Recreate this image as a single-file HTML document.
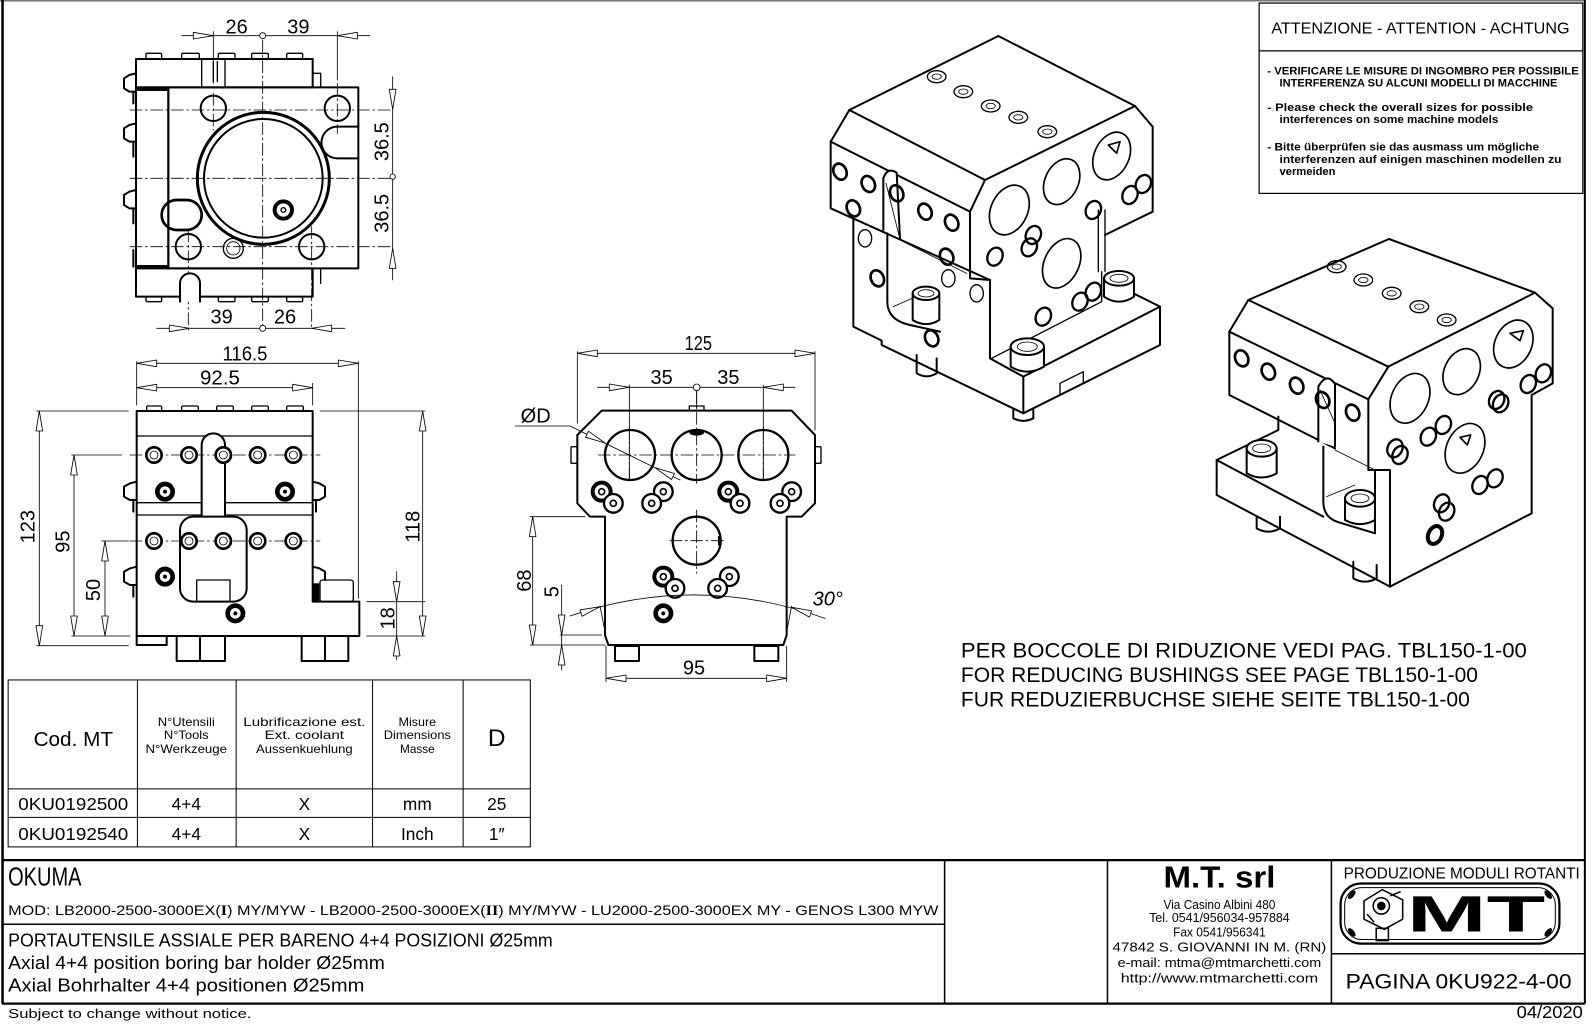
<!DOCTYPE html>
<html><head><meta charset="utf-8"><style>
html,body{margin:0;padding:0;background:#fff}
svg{display:block}
.z{fill:none;stroke:#000;stroke-linecap:round;stroke-linejoin:round}
.z .t{stroke-width:6}
.z .m{stroke-width:4}
.z .n{stroke-width:2.5}
.z .c{stroke-width:2.5;stroke-dasharray:36 10 6 10}
.z .a{stroke-width:2.5;fill:#fff}
.z .f{fill:#000;stroke:none}
.z .w{fill:#fff}
text{font-family:"Liberation Sans",sans-serif;fill:#000;stroke:none}
.dt{font-size:60px}
</style></head><body>
<svg width="1596" height="1025" viewBox="0 0 1596 1025" xmlns="http://www.w3.org/2000/svg">
<rect width="1596" height="1025" fill="#fff"/>

<!-- ========== VIEW A (top-left) ========== -->
<g class="z" transform="translate(100,0) scale(0.33333)">
 <path class="n" d="M245,107H478M498,107H810"/>
 <circle class="n" cx="488" cy="107" r="9"/>
 <polygon class="a" points="340,107 280,97 280,117"/>
 <polygon class="a" points="712,107 772,97 772,117"/>
 <path class="n" d="M340,95V250M712,95V240"/>
 <text class="dt" x="410" y="100" text-anchor="middle">26</text>
 <text class="dt" x="595" y="100" text-anchor="middle">39</text>

 <rect class="t" x="108" y="177" width="530" height="85"/>
 <path class="m" d="M305,177V262M375,177V262M340,185V245M352,185V245"/>
 <g class="m">
  <rect x="138" y="160" width="47" height="17" rx="4"/>
  <rect x="245" y="160" width="53" height="17" rx="4"/>
  <rect x="355" y="160" width="50" height="17" rx="4"/>
  <rect x="455" y="160" width="50" height="17" rx="4"/>
  <rect x="560" y="160" width="48" height="17" rx="4"/>
 </g>
 <path class="m" d="M638,220H662V262"/>

 <rect class="t" x="205" y="262" width="570" height="543"/>
 <rect class="t" x="108" y="262" width="97" height="540"/>
 <rect class="f" x="108" y="262" width="97" height="11"/>
 <rect class="f" x="108" y="795" width="97" height="10"/>
 <g class="t">
  <path d="M108,220L88,225L72,235L72,265L88,275L108,275M100,275V310"/>
  <path d="M108,370L88,375L72,385L72,415L88,425L108,425M100,425V470"/>
  <path d="M108,570L88,575L72,585L72,615L88,625L108,625M100,625V670"/>
  <path d="M100,750V800"/>
 </g>

 <circle class="t" cx="340" cy="325" r="38"/>
 <circle class="t" cx="712" cy="325" r="38"/>
 <circle class="t" cx="265" cy="740" r="38"/>
 <circle class="t" cx="635" cy="740" r="38"/>
 <circle cx="490" cy="535" r="198" stroke-width="9"/>
 <circle class="t" cx="490" cy="535" r="178"/>
 <path class="t" d="M775,380H712A47,47 0 0 0 712,475H775"/>
 <rect x="185" y="600" width="120" height="90" rx="45" stroke-width="8"/>
 <circle cx="550" cy="630" r="26" stroke-width="12"/>
 <circle class="m" cx="550" cy="630" r="7"/>
 <circle class="m" cx="400" cy="745" r="30"/>
 <circle class="n" cx="400" cy="745" r="20"/>

 <path class="c" d="M90,330H880M90,535H880M90,740H880M488,120V975M340,280V390M712,250V400M265,690V990M635,680V990"/>

 <path class="n" d="M878,230V521M878,539V840"/>
 <circle class="n" cx="878" cy="530" r="8"/>
 <polygon class="a" points="878,328 868,268 888,268"/>
 <polygon class="a" points="878,745 868,805 888,805"/>
 <text class="dt" transform="translate(866,425) rotate(-90)" text-anchor="middle">36.5</text>
 <text class="dt" transform="translate(866,640) rotate(-90)" text-anchor="middle">36.5</text>

 <rect class="t" x="108" y="805" width="530" height="85"/>
 <g class="m">
  <rect x="138" y="890" width="47" height="15" rx="4"/>
  <rect x="355" y="890" width="50" height="15" rx="4"/>
  <rect x="455" y="890" width="50" height="15" rx="4"/>
  <rect x="560" y="890" width="48" height="15" rx="4"/>
 </g>
 <path class="t w" d="M240,905V850A30,30 0 0 1 300,850V905"/>
 <path class="m" d="M638,805H662V850"/>

 <path class="n" d="M170,985H478M498,985H735"/>
 <polygon class="a" points="268,985 208,975 208,995"/>
 <polygon class="a" points="635,985 695,975 695,995"/>
 <circle class="n" cx="488" cy="985" r="9"/>
 <text class="dt" x="365" y="970" text-anchor="middle">39</text>
 <text class="dt" x="555" y="970" text-anchor="middle">26</text>
</g>

<!-- ========== VIEW B (front) ========== -->
<g class="z" transform="translate(0,330) scale(0.33333)">
 <path class="n" d="M410,100H1075M410,173H938M410,95V225M1075,95V805M938,160V225"/>
 <polygon class="a" points="410,100 470,90 470,110"/>
 <polygon class="a" points="1075,100 1015,90 1015,110"/>
 <polygon class="a" points="410,173 470,163 470,183"/>
 <polygon class="a" points="938,173 878,163 878,183"/>
 <text class="dt" x="735" y="92" text-anchor="middle" textLength="135" lengthAdjust="spacingAndGlyphs">116.5</text>
 <text class="dt" x="660" y="163" text-anchor="middle" textLength="120" lengthAdjust="spacingAndGlyphs">92.5</text>

 <path class="n" d="M118,243V947M110,243H385M110,947H385"/>
 <polygon class="a" points="118,243 108,303 128,303"/>
 <polygon class="a" points="118,947 108,887 128,887"/>
 <path class="n" d="M222,375V918M215,375H365M215,918H390"/>
 <polygon class="a" points="222,375 212,435 232,435"/>
 <polygon class="a" points="222,918 212,858 232,858"/>
 <path class="n" d="M315,633V918M305,633H385"/>
 <polygon class="a" points="315,633 305,693 325,693"/>
 <polygon class="a" points="315,918 305,858 325,858"/>
 <path class="n" d="M1268,243V918M960,243H1275M1100,918H1275"/>
 <polygon class="a" points="1268,243 1258,303 1278,303"/>
 <polygon class="a" points="1268,918 1258,858 1278,858"/>
 <path class="n" d="M1190,725V990M1100,815H1275"/>
 <polygon class="a" points="1190,815 1180,755 1200,755"/>
 <polygon class="a" points="1190,918 1180,978 1200,978"/>
 <text class="dt" transform="translate(103,590) rotate(-90)" text-anchor="middle">123</text>
 <text class="dt" transform="translate(208,635) rotate(-90)" text-anchor="middle">95</text>
 <text class="dt" transform="translate(300,780) rotate(-90)" text-anchor="middle">50</text>
 <text class="dt" transform="translate(1258,590) rotate(-90)" text-anchor="middle">118</text>
 <text class="dt" transform="translate(1183,865) rotate(-90)" text-anchor="middle">18</text>

 <g class="m">
  <rect x="440" y="228" width="45" height="15" rx="4"/>
  <rect x="545" y="228" width="50" height="15" rx="4"/>
  <rect x="650" y="228" width="50" height="15" rx="4"/>
  <rect x="755" y="228" width="50" height="15" rx="4"/>
  <rect x="860" y="228" width="50" height="15" rx="4"/>
 </g>
 <path class="t" d="M410,918V243H938V815H1078V918Z"/>
 <rect class="t" x="410" y="918" width="90" height="27"/>
 <rect class="m" x="960" y="750" width="100" height="65" rx="8"/>
 <rect class="f" x="940" y="760" width="18" height="55"/>
 <rect class="t" x="530" y="918" width="70" height="75"/>
 <rect class="t" x="600" y="918" width="75" height="75"/>
 <rect class="t" x="905" y="918" width="70" height="75"/>
 <rect class="t" x="975" y="918" width="70" height="75"/>
 <path class="m" d="M410,318H938M410,518H938M410,555H938"/>
 <path class="t w" d="M605,560V345A35,35 0 0 1 675,345V560"/>
 <rect class="t w" x="540" y="560" width="200" height="255" rx="40"/>
 <rect class="m" x="590" y="750" width="100" height="65"/>
 <path class="c" d="M390,375H960M390,633H960"/>
 <g>
  <circle cx="462" cy="375" r="23" stroke-width="8" class="w"/><circle class="n" cx="462" cy="375" r="12"/>
  <circle cx="567" cy="375" r="23" stroke-width="8" class="w"/><circle class="n" cx="567" cy="375" r="12"/>
  <circle cx="670" cy="375" r="23" stroke-width="8" class="w"/><circle class="n" cx="670" cy="375" r="12"/>
  <circle cx="773" cy="375" r="23" stroke-width="8" class="w"/><circle class="n" cx="773" cy="375" r="12"/>
  <circle cx="880" cy="375" r="23" stroke-width="8" class="w"/><circle class="n" cx="880" cy="375" r="12"/>
  <circle cx="462" cy="633" r="23" stroke-width="8" class="w"/><circle class="n" cx="462" cy="633" r="12"/>
  <circle cx="567" cy="633" r="23" stroke-width="8" class="w"/><circle class="n" cx="567" cy="633" r="12"/>
  <circle cx="670" cy="633" r="23" stroke-width="8" class="w"/><circle class="n" cx="670" cy="633" r="12"/>
  <circle cx="773" cy="633" r="23" stroke-width="8" class="w"/><circle class="n" cx="773" cy="633" r="12"/>
  <circle cx="880" cy="633" r="23" stroke-width="8" class="w"/><circle class="n" cx="880" cy="633" r="12"/>
 </g>
 <g>
  <circle cx="495" cy="485" r="23" stroke-width="14"/><circle class="f" cx="495" cy="485" r="6"/>
  <circle cx="855" cy="485" r="23" stroke-width="14"/><circle class="f" cx="855" cy="485" r="6"/>
  <circle cx="495" cy="740" r="23" stroke-width="14"/><circle class="f" cx="495" cy="740" r="6"/>
  <circle cx="706" cy="850" r="23" stroke-width="14"/><circle class="f" cx="706" cy="850" r="6"/>
 </g>
 <g class="t">
  <path d="M410,455L390,460L372,470L372,500L390,510L410,510M400,510V545"/>
  <path d="M410,710L390,715L372,725L372,755L390,765L410,765M400,765V800"/>
  <path d="M938,455L958,460L975,470L975,500L958,510L938,510M948,510V545"/>
  <path d="M938,710L958,715L975,725L975,750"/>
 </g>
</g>

<!-- ========== VIEW C (side) ========== -->
<g class="z" transform="translate(490,320) scale(0.33333)">
 <path class="n" d="M262,100H975M262,95V310M975,95V330"/>
 <polygon class="a" points="262,100 322,90 322,110"/>
 <polygon class="a" points="975,100 915,90 915,110"/>
 <text class="dt" x="625" y="90" text-anchor="middle" textLength="82" lengthAdjust="spacingAndGlyphs">125</text>
 <path class="n" d="M322,202H610M630,202H915M418,195V480M820,195V480M620,212V262"/>
 <circle class="n" cx="620" cy="202" r="10"/>
 <polygon class="a" points="418,202 358,192 358,212"/>
 <polygon class="a" points="820,202 880,192 880,212"/>
 <text class="dt" x="515" y="192" text-anchor="middle">35</text>
 <text class="dt" x="715" y="192" text-anchor="middle">35</text>

 <path class="t" d="M335,272L905,272L975,345L975,550L935,590L890,590L890,945L880,975L355,975L345,945L345,590L300,590L262,550L262,345Z"/>
 <rect class="m" x="598" y="258" width="44" height="14"/>
 <rect class="m" x="243" y="380" width="19" height="50" rx="3"/>
 <rect class="m" x="975" y="380" width="18" height="50" rx="3"/>
 <circle cx="420" cy="405" r="75" stroke-width="7"/>
 <circle cx="620" cy="405" r="75" stroke-width="7"/>
 <circle cx="820" cy="405" r="75" stroke-width="7"/>
 <circle cx="620" cy="662" r="72" stroke-width="7"/>
 <ellipse class="f" cx="620" cy="338" rx="22" ry="9"/>
 <rect class="f" x="684" y="648" width="8" height="28"/>
 <path class="c" d="M325,405H915M620,215V490M620,570V760M540,662H710M418,320V490M820,320V490"/>

 <g>
  <circle cx="335" cy="515" r="27" stroke-width="12" class="w"/><circle cx="335" cy="515" r="9" stroke-width="5"/>
  <circle cx="370" cy="550" r="28" stroke-width="7" class="w"/><circle cx="370" cy="550" r="9" stroke-width="5"/>
  <circle cx="520" cy="515" r="28" stroke-width="7" class="w"/><circle cx="520" cy="515" r="9" stroke-width="5"/>
  <circle cx="485" cy="550" r="28" stroke-width="7" class="w"/><circle cx="485" cy="550" r="9" stroke-width="5"/>
  <circle cx="715" cy="515" r="27" stroke-width="12" class="w"/><circle cx="715" cy="515" r="9" stroke-width="5"/>
  <circle cx="750" cy="550" r="28" stroke-width="7" class="w"/><circle cx="750" cy="550" r="9" stroke-width="5"/>
  <circle cx="905" cy="515" r="28" stroke-width="7" class="w"/><circle cx="905" cy="515" r="9" stroke-width="5"/>
  <circle cx="870" cy="550" r="28" stroke-width="7" class="w"/><circle cx="870" cy="550" r="9" stroke-width="5"/>
  <circle cx="520" cy="770" r="27" stroke-width="12" class="w"/><circle cx="520" cy="770" r="9" stroke-width="5"/>
  <circle cx="555" cy="805" r="28" stroke-width="7" class="w"/><circle cx="555" cy="805" r="9" stroke-width="5"/>
  <circle cx="718" cy="770" r="28" stroke-width="7" class="w"/><circle cx="718" cy="770" r="9" stroke-width="5"/>
  <circle cx="683" cy="805" r="28" stroke-width="7" class="w"/><circle cx="683" cy="805" r="9" stroke-width="5"/>
  <circle cx="520" cy="880" r="23" stroke-width="14"/><circle class="f" cx="520" cy="880" r="6"/>
 </g>

 <text class="dt" x="92" y="308">ØD</text>
 <path class="n" d="M75,318H240L570,480"/>
 <polygon class="a" points="345,369 286.6,351.5 295.4,333.5"/>
 <polygon class="a" points="495,443 544.6,478.5 553.4,460.5"/>

 <path class="n" d="M240,888Q620,758 1005,895"/>
 <path class="n" d="M330,858L345,935M905,858L890,935"/>
 <polygon class="a" points="330,860 276.4,888.9 270,869.9"/>
 <polygon class="a" points="905,862 958.2,891.5 964.9,872.7"/>
 <text class="dt" x="968" y="856" font-style="italic">30°</text>

 <path class="n" d="M128,590V975M120,590H285M120,975H345"/>
 <polygon class="a" points="128,590 118,650 138,650"/>
 <polygon class="a" points="128,975 118,915 138,915"/>
 <text class="dt" transform="translate(123,782) rotate(-90)" text-anchor="middle">68</text>
 <path class="n" d="M215,795V1050M210,945H335"/>
 <polygon class="a" points="215,945 205,885 225,885"/>
 <polygon class="a" points="215,975 205,1035 225,1035"/>
 <text class="dt" transform="translate(205,815) rotate(-90)" text-anchor="middle">5</text>

 <rect class="t" x="375" y="978" width="72" height="45"/>
 <rect class="t" x="793" y="978" width="72" height="45"/>
 <path class="n" d="M348,1075H890M348,978V1085M890,978V1085"/>
 <polygon class="a" points="348,1075 408,1065 408,1085"/>
 <polygon class="a" points="890,1075 830,1065 830,1085"/>
 <text class="dt" x="612" y="1063" text-anchor="middle">95</text>
</g>

<!-- ========== 3D VIEW 1 ========== -->
<g class="z" transform="translate(800,30) scale(0.33333)">
 <path class="t" d="M148,240L595,18L1005,228L555,450Z"/>
 <path class="t" d="M148,240L92,335L510,545L555,450"/>
 <path class="t" d="M1005,228L1058,290V545L915,615"/>
 <path class="t" d="M92,335V535L570,750"/>
 <path class="t" d="M160,568V890L245,932V945L670,1150L1080,945V830L670,1040V1150"/>
 <path class="t" d="M510,545V745L570,750V985L670,1040"/>
 <path class="t" d="M1080,830L1000,790"/>
 <path class="m" d="M575,985L905,815V725M895,540V725M915,540V725"/>
 <path class="m" d="M780,1090V1060L850,1025V1055"/>
 <path class="t" d="M262,610V815Q262,870 330,885L420,905"/>
 <path class="n" d="M280,830L370,790M280,620L500,730"/>
 <path class="t w" d="M250,600V445Q262,410 290,428L300,625"/>
 <path class="n" d="M258,460L298,620"/>

 <g stroke-width="5">
  <ellipse cx="628" cy="540" rx="55" ry="78" transform="rotate(25 628 540)"/>
  <ellipse cx="785" cy="455" rx="50" ry="72" transform="rotate(25 785 455)"/>
  <ellipse cx="935" cy="378" rx="52" ry="75" transform="rotate(25 935 378)"/>
  <ellipse cx="785" cy="700" rx="52" ry="78" transform="rotate(25 785 700)"/>
  <polygon points="925,345 960,335 950,370"/>
 </g>
 <g>
  <ellipse cx="410" cy="140" rx="28" ry="18" class="m"/><ellipse cx="410" cy="140" rx="14" ry="8" class="n"/>
  <ellipse cx="490" cy="185" rx="28" ry="18" class="m"/><ellipse cx="490" cy="185" rx="14" ry="8" class="n"/>
  <ellipse cx="572" cy="228" rx="28" ry="18" class="m"/><ellipse cx="572" cy="228" rx="14" ry="8" class="n"/>
  <ellipse cx="655" cy="262" rx="28" ry="18" class="m"/><ellipse cx="655" cy="262" rx="14" ry="8" class="n"/>
  <ellipse cx="742" cy="305" rx="28" ry="18" class="m"/><ellipse cx="742" cy="305" rx="14" ry="8" class="n"/>
 </g>
 <g stroke-width="8">
  <ellipse cx="120" cy="425" rx="19" ry="25" transform="rotate(-25 120 425)"/>
  <ellipse cx="205" cy="462" rx="19" ry="25" transform="rotate(-25 205 462)"/>
  <ellipse cx="160" cy="535" rx="19" ry="25" transform="rotate(-25 160 535)"/>
  <ellipse cx="290" cy="490" rx="19" ry="25" transform="rotate(-25 290 490)"/>
  <ellipse cx="375" cy="545" rx="19" ry="25" transform="rotate(-25 375 545)"/>
  <ellipse cx="455" cy="578" rx="19" ry="25" transform="rotate(-25 455 578)"/>
  <ellipse cx="440" cy="680" rx="19" ry="25" transform="rotate(-25 440 680)"/>
  <ellipse cx="232" cy="745" rx="19" ry="25" transform="rotate(-25 232 745)"/>
  <ellipse cx="395" cy="925" rx="19" ry="25" transform="rotate(-25 395 925)"/>
 </g>
 <g stroke-width="4">
  <ellipse cx="195" cy="625" rx="20" ry="26"/>
  <ellipse cx="445" cy="745" rx="20" ry="26"/>
  <ellipse cx="530" cy="790" rx="20" ry="26"/>
 </g>
 <g stroke-width="7">
  <ellipse cx="585" cy="680" rx="22" ry="28" transform="rotate(25 585 680)"/>
  <ellipse cx="700" cy="615" rx="22" ry="28" transform="rotate(25 700 615)"/>
  <ellipse cx="688" cy="652" rx="22" ry="28" transform="rotate(25 688 652)"/>
  <ellipse cx="880" cy="540" rx="22" ry="28" transform="rotate(25 880 540)"/>
  <ellipse cx="1030" cy="462" rx="22" ry="28" transform="rotate(25 1030 462)"/>
  <ellipse cx="990" cy="495" rx="22" ry="28" transform="rotate(25 990 495)"/>
  <ellipse cx="880" cy="785" rx="22" ry="28" transform="rotate(25 880 785)"/>
  <ellipse cx="840" cy="815" rx="22" ry="28" transform="rotate(25 840 815)"/>
  <ellipse cx="730" cy="860" rx="22" ry="28" transform="rotate(25 730 860)"/>
 </g>
 <g class="t">
  <path class="w" d="M338,790V870Q378,895 418,870V790"/>
  <ellipse class="w" cx="378" cy="790" rx="40" ry="20"/>
  <path class="w" d="M912,745V800Q957,830 1002,800V745"/>
  <ellipse class="w" cx="957" cy="745" rx="45" ry="22"/>
  <path class="w" d="M632,950V1010Q682,1040 732,1010V950"/>
  <ellipse class="w" cx="682" cy="950" rx="50" ry="25"/>
  <path d="M350,975V1030Q380,1048 410,1030V985"/>
  <path d="M640,1135V1165Q670,1180 700,1165V1140"/>
 </g>
 <g class="n"><ellipse cx="378" cy="790" rx="24" ry="11"/><ellipse cx="957" cy="745" rx="27" ry="12"/><ellipse cx="682" cy="950" rx="30" ry="14"/></g>
</g>

<!-- ========== 3D VIEW 2 ========== -->
<g class="z" transform="translate(1180,240) scale(0.33333)">
 <path class="t" d="M205,180L627,-3L1065,158L625,380Z"/>
 <path class="t" d="M205,180L148,275L565,478L625,380"/>
 <path class="t" d="M1065,158L1118,205V430L1055,465V820L630,1040"/>
 <path class="t" d="M148,275V465L465,625"/>
 <path class="t" d="M565,478V690L630,690V1040"/>
 <path class="t" d="M110,660L295,570V530M110,660V765L630,1040"/>
 <path class="t" d="M110,660L430,830"/>
 <path class="t" d="M430,620V785Q430,835 480,848L585,880V690"/>
 <path class="n" d="M440,770L525,735M465,630L585,690"/>
 <path class="t w" d="M415,605V440Q440,395 465,432V620"/>
 <path class="n" d="M420,450L465,550"/>
 <g stroke-width="5">
  <ellipse cx="690" cy="475" rx="55" ry="78" transform="rotate(25 690 475)"/>
  <ellipse cx="845" cy="395" rx="52" ry="72" transform="rotate(25 845 395)"/>
  <ellipse cx="1000" cy="312" rx="55" ry="75" transform="rotate(25 1000 312)"/>
  <ellipse cx="855" cy="625" rx="55" ry="78" transform="rotate(25 855 625)"/>
  <polygon points="990,280 1030,272 1020,302"/>
  <polygon points="840,592 872,585 862,615"/>
 </g>
 <g>
  <ellipse cx="470" cy="80" rx="28" ry="18" class="m"/><ellipse cx="470" cy="80" rx="14" ry="8" class="n"/>
  <ellipse cx="550" cy="120" rx="28" ry="18" class="m"/><ellipse cx="550" cy="120" rx="14" ry="8" class="n"/>
  <ellipse cx="635" cy="160" rx="28" ry="18" class="m"/><ellipse cx="635" cy="160" rx="14" ry="8" class="n"/>
  <ellipse cx="718" cy="200" rx="28" ry="18" class="m"/><ellipse cx="718" cy="200" rx="14" ry="8" class="n"/>
  <ellipse cx="800" cy="240" rx="28" ry="18" class="m"/><ellipse cx="800" cy="240" rx="14" ry="8" class="n"/>
 </g>
 <g stroke-width="8">
  <ellipse cx="185" cy="355" rx="19" ry="25" transform="rotate(-25 185 355)"/>
  <ellipse cx="265" cy="395" rx="19" ry="25" transform="rotate(-25 265 395)"/>
  <ellipse cx="350" cy="437" rx="19" ry="25" transform="rotate(-25 350 437)"/>
  <ellipse cx="428" cy="480" rx="19" ry="25" transform="rotate(-25 428 480)"/>
  <ellipse cx="518" cy="518" rx="19" ry="25" transform="rotate(-25 518 518)"/>
 </g>
 <g stroke-width="7">
  <ellipse cx="645" cy="625" rx="22" ry="28" transform="rotate(25 645 625)"/>
  <ellipse cx="660" cy="645" rx="22" ry="28" transform="rotate(25 660 645)"/>
  <ellipse cx="745" cy="590" rx="22" ry="28" transform="rotate(25 745 590)"/>
  <ellipse cx="790" cy="555" rx="22" ry="28" transform="rotate(25 790 555)"/>
  <ellipse cx="950" cy="480" rx="22" ry="28" transform="rotate(25 950 480)"/>
  <ellipse cx="962" cy="490" rx="22" ry="28" transform="rotate(25 962 490)"/>
  <ellipse cx="1045" cy="432" rx="22" ry="28" transform="rotate(25 1045 432)"/>
  <ellipse cx="1090" cy="400" rx="22" ry="28" transform="rotate(25 1090 400)"/>
  <ellipse cx="900" cy="735" rx="22" ry="28" transform="rotate(25 900 735)"/>
  <ellipse cx="945" cy="715" rx="22" ry="28" transform="rotate(25 945 715)"/>
  <ellipse cx="800" cy="815" rx="22" ry="28" transform="rotate(25 800 815)"/>
  <ellipse cx="785" cy="790" rx="22" ry="28" transform="rotate(25 785 790)"/>
  <ellipse cx="765" cy="885" rx="20" ry="28" stroke-width="12" transform="rotate(25 765 885)"/>
 </g>
 <g class="t">
  <path class="w" d="M200,625V700Q245,725 290,700V625"/>
  <ellipse class="w" cx="245" cy="625" rx="45" ry="25"/>
  <path class="w" d="M495,775V840Q540,865 585,840V775"/>
  <ellipse class="w" cx="540" cy="775" rx="45" ry="25"/>
  <path d="M230,830V865Q265,885 300,865V830"/>
  <path d="M520,965V1015Q555,1035 590,1015V975"/>
 </g>
 <g class="n"><ellipse cx="245" cy="625" rx="27" ry="13"/><ellipse cx="540" cy="775" rx="27" ry="13"/></g>
</g>

<!-- ========== FRAME / TABLES / TEXT (perceived coords) ========== -->
<g transform="scale(1.0179)">
 <path d="M0,0.7H1557" stroke="#777" stroke-width="1.6" fill="none"/>
 <path d="M2.5,0V986" stroke="#000" stroke-width="2.5" fill="none"/>
 <path d="M1557,0V986" stroke="#000" stroke-width="2" fill="none"/>

 <!-- attention box -->
 <rect x="1237" y="3" width="318" height="187" fill="none" stroke="#000" stroke-width="1.2"/>
 <path d="M1237,50H1555" stroke="#000" stroke-width="1.2"/>
 <text x="1249" y="33" font-size="15" textLength="293" lengthAdjust="spacingAndGlyphs">ATTENZIONE - ATTENTION - ACHTUNG</text>
 <g font-size="11" font-weight="bold">
  <text x="1245" y="73" textLength="306" lengthAdjust="spacingAndGlyphs">- VERIFICARE LE MISURE DI INGOMBRO PER POSSIBILE</text>
  <text x="1257" y="85" textLength="273" lengthAdjust="spacingAndGlyphs">INTERFERENZA SU ALCUNI MODELLI DI MACCHINE</text>
  <text x="1245" y="109" textLength="261" lengthAdjust="spacingAndGlyphs">- Please check the overall sizes for possible</text>
  <text x="1257" y="121" textLength="215" lengthAdjust="spacingAndGlyphs">interferences on some machine models</text>
  <text x="1245" y="148" textLength="267" lengthAdjust="spacingAndGlyphs">- Bitte überprüfen sie das ausmass um mögliche</text>
  <text x="1257" y="160" textLength="277" lengthAdjust="spacingAndGlyphs">interferenzen auf einigen maschinen modellen zu</text>
  <text x="1257" y="172" textLength="55" lengthAdjust="spacingAndGlyphs">vermeiden</text>
 </g>

 <!-- notes -->
 <g font-size="21">
  <text x="944" y="646" textLength="556" lengthAdjust="spacingAndGlyphs">PER BOCCOLE DI RIDUZIONE VEDI PAG. TBL150-1-00</text>
  <text x="944" y="670" textLength="508" lengthAdjust="spacingAndGlyphs">FOR REDUCING BUSHINGS SEE PAGE TBL150-1-00</text>
  <text x="944" y="694" textLength="500" lengthAdjust="spacingAndGlyphs">FUR REDUZIERBUCHSE SIEHE SEITE TBL150-1-00</text>
 </g>

 <!-- table -->
 <g fill="none" stroke="#000" stroke-width="1">
  <rect x="8" y="668" width="513" height="164"/>
  <path d="M8,775H521M8,803H521M135,668V832M232,668V832M366,668V832M455,668V832"/>
 </g>
 <text x="72" y="733" font-size="20" text-anchor="middle" textLength="78" lengthAdjust="spacingAndGlyphs">Cod. MT</text>
 <g font-size="11.5" text-anchor="middle">
  <text x="183" y="713" textLength="56" lengthAdjust="spacingAndGlyphs">N°Utensili</text>
  <text x="183" y="726" textLength="44" lengthAdjust="spacingAndGlyphs">N°Tools</text>
  <text x="183" y="740" textLength="80" lengthAdjust="spacingAndGlyphs">N°Werkzeuge</text>
  <text x="299" y="713" textLength="120" lengthAdjust="spacingAndGlyphs">Lubrificazione est.</text>
  <text x="299" y="726" textLength="78" lengthAdjust="spacingAndGlyphs">Ext. coolant</text>
  <text x="299" y="740" textLength="95" lengthAdjust="spacingAndGlyphs">Aussenkuehlung</text>
  <text x="410" y="713" textLength="37" lengthAdjust="spacingAndGlyphs">Misure</text>
  <text x="410" y="726" textLength="66" lengthAdjust="spacingAndGlyphs">Dimensions</text>
  <text x="410" y="740" textLength="34" lengthAdjust="spacingAndGlyphs">Masse</text>
 </g>
 <text x="488" y="733" font-size="24" text-anchor="middle">D</text>
 <g font-size="17" text-anchor="middle">
  <text x="72" y="796" textLength="108" lengthAdjust="spacingAndGlyphs">0KU0192500</text>
  <text x="183" y="796">4+4</text>
  <text x="299" y="796">X</text>
  <text x="410" y="796">mm</text>
  <text x="488" y="796">25</text>
  <text x="72" y="825" textLength="108" lengthAdjust="spacingAndGlyphs">0KU0192540</text>
  <text x="183" y="825">4+4</text>
  <text x="299" y="825">X</text>
  <text x="410" y="825">Inch</text>
  <text x="488" y="825">1″</text>
 </g>

 <!-- title block -->
 <g fill="none" stroke="#000">
  <path d="M2,845H1557M2,986H1557" stroke-width="2.2"/>
  <path d="M928,845V986M1088,845V986M1308,845V986M2,908H928M1308,937H1557" stroke-width="1.5"/>
 </g>
 <text x="8" y="870" font-size="25" textLength="72" lengthAdjust="spacingAndGlyphs">OKUMA</text>
 <text x="8" y="899" font-size="14" textLength="914" lengthAdjust="spacingAndGlyphs">MOD: LB2000-2500-3000EX(<tspan font-weight="bold" font-family="Liberation Serif">I</tspan>) MY/MYW  -  LB2000-2500-3000EX(<tspan font-weight="bold" font-family="Liberation Serif">II</tspan>) MY/MYW  -  LU2000-2500-3000EX MY  -  GENOS L300 MYW</text>
 <text x="8" y="930" font-size="18" textLength="535" lengthAdjust="spacingAndGlyphs">PORTAUTENSILE ASSIALE PER BARENO 4+4 POSIZIONI Ø25mm</text>
 <text x="8" y="952" font-size="18" textLength="370" lengthAdjust="spacingAndGlyphs">Axial 4+4 position boring bar holder Ø25mm</text>
 <text x="8" y="974" font-size="18" textLength="350" lengthAdjust="spacingAndGlyphs">Axial Bohrhalter 4+4 positionen Ø25mm</text>
 <text x="8" y="1000" font-size="13" textLength="239" lengthAdjust="spacingAndGlyphs">Subject to change without notice.</text>
 <text x="1555" y="1000" font-size="17" text-anchor="end" textLength="65" lengthAdjust="spacingAndGlyphs">04/2020</text>

 <text x="1198" y="872" font-size="30" font-weight="bold" text-anchor="middle" textLength="110" lengthAdjust="spacingAndGlyphs">M.T. srl</text>
 <g font-size="12.5" text-anchor="middle">
  <text x="1198" y="893" textLength="110" lengthAdjust="spacingAndGlyphs">Via Casino Albini 480</text>
  <text x="1198" y="906" textLength="138" lengthAdjust="spacingAndGlyphs">Tel. 0541/956034-957884</text>
  <text x="1198" y="920" textLength="91" lengthAdjust="spacingAndGlyphs">Fax 0541/956341</text>
  <text x="1198" y="935" textLength="210" lengthAdjust="spacingAndGlyphs">47842 S. GIOVANNI IN M. (RN)</text>
  <text x="1198" y="950" textLength="200" lengthAdjust="spacingAndGlyphs">e-mail: mtma@mtmarchetti.com</text>
  <text x="1198" y="965" textLength="194" lengthAdjust="spacingAndGlyphs">http://www.mtmarchetti.com</text>
 </g>

 <text x="1320" y="863" font-size="15" textLength="232" lengthAdjust="spacingAndGlyphs">PRODUZIONE MODULI ROTANTI</text>
 <rect x="1317" y="868" width="215" height="59" rx="20" fill="none" stroke="#000" stroke-width="2.2"/>
 <rect x="1321" y="872" width="207" height="51" rx="17" fill="none" stroke="#000" stroke-width="1"/>
 <text x="1450" y="915" font-family="Liberation Serif" font-weight="bold" font-size="50" text-anchor="middle" textLength="136" lengthAdjust="spacingAndGlyphs" stroke="#000" stroke-width="2">MT</text>
 <g fill="#000">
  <ellipse cx="1328" cy="879" rx="2.5" ry="5" transform="rotate(40 1328 879)"/>
  <ellipse cx="1521" cy="879" rx="2.5" ry="5" transform="rotate(-40 1521 879)"/>
  <ellipse cx="1328" cy="916" rx="2.5" ry="5" transform="rotate(-40 1328 916)"/>
  <ellipse cx="1521" cy="916" rx="2.5" ry="5" transform="rotate(40 1521 916)"/>
 </g>
 <g fill="none" stroke="#000" stroke-width="1.5">
  <polygon points="1340,885 1358,874 1378,884 1378,903 1360,913 1340,903"/>
  <circle cx="1357" cy="890" r="8"/>
  <circle cx="1357" cy="890" r="3.5" fill="#000"/>
  <rect x="1352" y="912" width="12" height="12"/>
  <path d="M1366,880L1376,876M1343,898L1350,906"/>
 </g>
 <text x="1322" y="971" font-size="21" textLength="222" lengthAdjust="spacingAndGlyphs">PAGINA 0KU922-4-00</text>
</g>
</svg>
</body></html>
